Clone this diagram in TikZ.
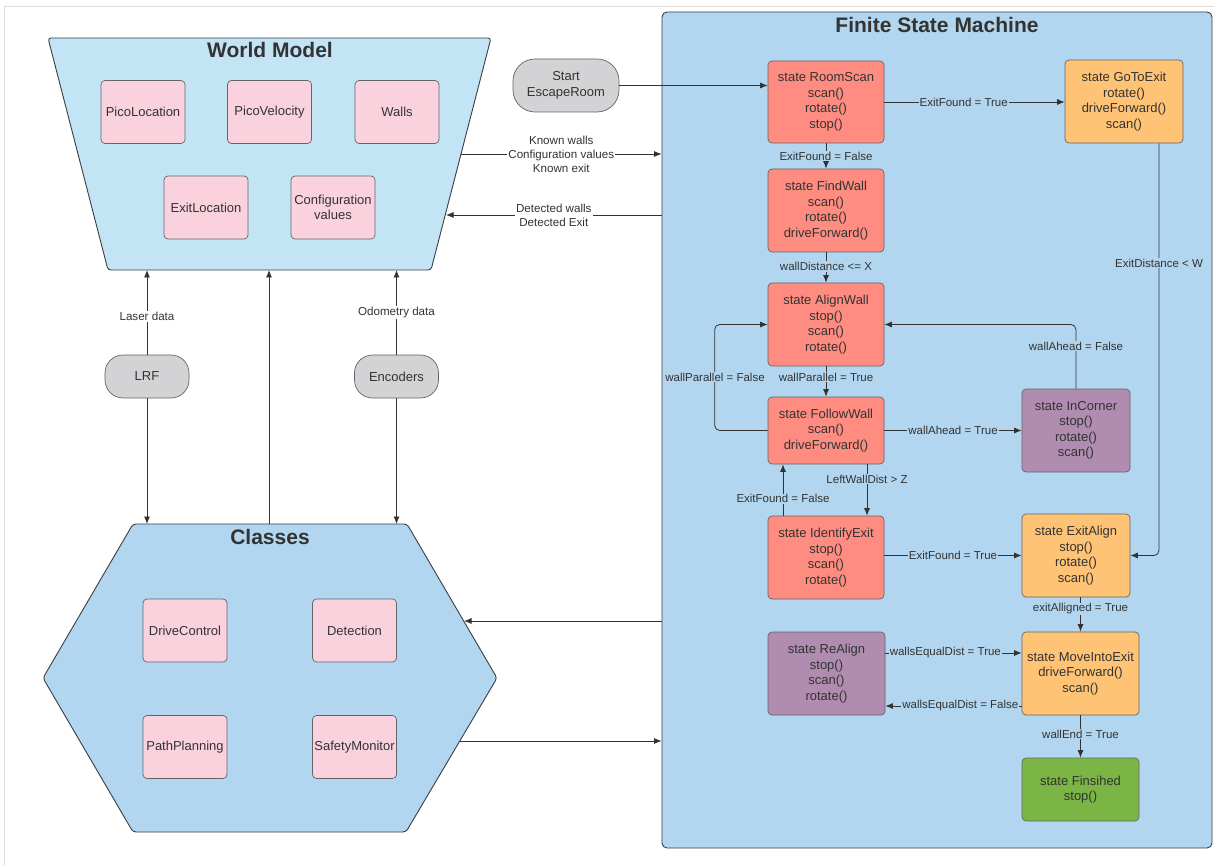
\documentclass[tikz,border=0pt]{standalone}
\usepackage{fontspec}
\setmainfont{Liberation Sans}
\usetikzlibrary{arrows.meta}
\definecolor{wmblue}{RGB}{194,228,245}
\definecolor{clsblue}{RGB}{178,214,239}
\definecolor{pinkbox}{RGB}{249,210,222}
\definecolor{redst}{RGB}{255,140,128}
\definecolor{orangest}{RGB}{255,195,117}
\definecolor{purplest}{RGB}{176,140,176}
\definecolor{greenst}{RGB}{122,181,70}
\definecolor{pillgrey}{RGB}{211,211,213}
\definecolor{bord}{RGB}{100,100,104}
\definecolor{outerb}{RGB}{58,62,68}
\definecolor{txt}{RGB}{51,51,51}
\definecolor{linec}{RGB}{51,51,51}
\definecolor{frame}{RGB}{222,222,222}
\begin{document}
\begin{tikzpicture}[x=1pt,y=-1pt,
  box/.style={draw=bord, line width=0.7pt, rounded corners=4pt, align=center, text=txt,
    font=\fontsize{13}{15.5}\selectfont, inner sep=0pt},
  pinkb/.style={box, fill=pinkbox, minimum width=84pt, minimum height=63pt},
  stred/.style={box, fill=redst},
  storange/.style={box, fill=orangest},
  stpurple/.style={box, fill=purplest},
  stgreen/.style={box, fill=greenst},
  pill/.style={box, fill=pillgrey},
  arr/.style={draw=linec, line width=0.8pt, -{Latex[length=7.5pt,width=6pt]}},
  lbl/.style={font=\fontsize{11.6}{14}\selectfont, text=txt, fill=white, inner sep=1pt, align=center},
  flbl/.style={font=\fontsize{11.5}{14}\selectfont, text=txt, fill=clsblue, inner sep=1pt, align=center},
  ttl/.style={font=\fontsize{21}{24}\selectfont\bfseries, text=txt}
]
\useasboundingbox (0,0) rectangle (1214,866);
\fill[white] (0,0) rectangle (1214,866);
\draw[frame, line width=0.8pt] (4,866) -- (4,6) -- (1214,6);

% ---------- World Model ----------
\draw[draw=outerb, line width=0.9pt, fill=wmblue, rounded corners=3pt]
  (48,38) -- (491,38) -- (431,270) -- (108,270) -- cycle;
\node[ttl] (wmtitle) at (270,50) {World Model};
\node[pinkb] (picoloc) at (143,112) {PicoLocation};
\node[pinkb] (picovel) at (269.5,112) {PicoVelocity};
\node[pinkb] (walls) at (397,112) {Walls};
\node[pinkb] (exitloc) at (206,207.5) {ExitLocation};
\node[pinkb] (config) at (333,207.5) {Configuration\\values};
\coordinate (wmR1) at (461,154);
\coordinate (wmR2) at (446,215);
\coordinate (wmB2) at (269,270);

% ---------- Classes ----------
\draw[draw=outerb, line width=0.9pt, fill=clsblue, rounded corners=3pt]
  (133,524) -- (407,524) -- (497,678) -- (406,832) -- (133,832) -- (43,678) -- cycle;
\node[ttl] (clstitle) at (270,537) {Classes};
\node[pinkb] (drive) at (185,630.5) {DriveControl};
\node[pinkb] (detect) at (354.5,630.5) {Detection};
\node[pinkb] (path) at (185,747) {PathPlanning};
\node[pinkb] (safety) at (354.5,747) {SafetyMonitor};
\coordinate (clsT2) at (269,524);
\coordinate (clsR1) at (464,621);
\coordinate (clsR2) at (460,741);

% ---------- sensors ----------
\node[pill, rounded corners=18pt, minimum width=84pt, minimum height=43pt] (lrf) at (147,376.5) {LRF};
\node[pill, rounded corners=18pt, minimum width=84pt, minimum height=43pt] (enc) at (396.5,376.5) {Encoders};

% ---------- FSM container ----------
\node[draw=outerb, line width=0.9pt, fill=clsblue, rounded corners=5pt,
  minimum width=550pt, minimum height=836pt, inner sep=0pt] (FSM) at (937,430) {};
\node[ttl] (fsmtitle) at (937,25) {Finite State Machine};

\node[pill, rounded corners=22pt, minimum width=106pt, minimum height=53pt] (start) at (566,85.5) {Start\\EscapeRoom};

\node[stred, minimum width=116pt, minimum height=82pt] (roomscan) at (826,102) {state RoomScan\\scan()\\rotate()\\stop()};
\node[stred, minimum width=116pt, minimum height=83pt] (findwall) at (826,210.5) {state FindWall\\scan()\\rotate()\\driveForward()};
\node[stred, minimum width=116pt, minimum height=83pt] (alignwall) at (826,324.5) {state AlignWall\\stop()\\scan()\\rotate()};
\node[stred, minimum width=116pt, minimum height=67pt] (followwall) at (826,430.5) {state FollowWall\\scan()\\driveForward()};
\node[stred, minimum width=116pt, minimum height=83pt] (identify) at (826,557.5) {state IdentifyExit\\stop()\\scan()\\rotate()};
\node[stpurple, minimum width=117pt, minimum height=83pt] (realign) at (826.5,673.5) {state ReAlign\\stop()\\scan()\\rotate()};
\node[storange, minimum width=118pt, minimum height=83pt] (gotoexit) at (1124,101.5) {state GoToExit\\rotate()\\driveForward()\\scan()};
\node[stpurple, minimum width=108pt, minimum height=83pt] (incorner) at (1076,430.5) {state InCorner\\stop()\\rotate()\\scan()};
\node[storange, minimum width=108pt, minimum height=83pt] (exitalign) at (1076,555.5) {state ExitAlign\\stop()\\rotate()\\scan()};
\node[storange, minimum width=117pt, minimum height=83pt] (moveinto) at (1080.5,673.5) {state MoveIntoExit\\driveForward()\\scan()};
\node[stgreen, minimum width=117pt, minimum height=63pt] (finished) at (1080.5,789.5) {state Finsihed\\stop()};

% ---------- left connectors ----------
\draw[arr] (wmR1) -- node[lbl] {Known walls\\Configuration values\\Known exit} (wmR1 -| FSM.west);
\draw[arr] (wmR2 -| FSM.west) -- node[lbl] {Detected walls\\Detected Exit} (wmR2);
\draw[arr] (clsR1 -| FSM.west) -- (clsR1);
\draw[arr] (clsR2) -- (clsR2 -| FSM.west);

\draw[arr] (lrf.north) -- node[lbl, pos=0.45] {Laser data} (lrf.north |- wmB2);
\draw[arr] (enc.north) -- node[lbl, pos=0.5] {Odometry data} (enc.north |- wmB2);
\draw[arr] (clsT2) -- (wmB2);
\draw[arr] (lrf.south) -- (lrf.south |- clsT2);
\draw[arr] (enc.south) -- (enc.south |- clsT2);

% ---------- FSM connectors ----------
\draw[arr] (start.east) -- (start.east -| roomscan.west);
\draw[arr] (roomscan.east) -- node[flbl, pos=0.44] {ExitFound = True} (gotoexit.west |- roomscan.east);
\draw[arr] (roomscan.south) -- node[flbl] {ExitFound = False} (findwall.north);
\draw[arr] (findwall.south) -- node[flbl, pos=0.47] {wallDistance <= X} (alignwall.north);
\draw[arr] (alignwall.south) -- node[flbl, pos=0.35] {wallParallel = True} (followwall.north);
\draw[arr, rounded corners=5pt] (followwall.west) -| ([xshift=-53pt]alignwall.west) -- (alignwall.west);
\node[flbl] (wpf) at (715,377) {wallParallel = False};
\draw[arr] (followwall.east) -- node[flbl] {wallAhead = True} (incorner.west);
\draw[arr, rounded corners=5pt] (incorner.north) |- (alignwall.east);
\node[flbl] (waf) at (1076,346) {wallAhead = False};
\draw[arr] ([xshift=41pt]followwall.south) -- node[flbl, pos=0.29] {LeftWallDist > Z} ([xshift=41pt]identify.north);
\draw[arr] ([xshift=-43pt]identify.north) -- node[flbl, pos=0.33] {ExitFound = False} ([xshift=-43pt]followwall.south);
\draw[arr] (identify.east |- exitalign.west) -- node[flbl] {ExitFound = True} (exitalign.west);
\draw[arr, rounded corners=5pt] ([xshift=35pt]gotoexit.south) |- (exitalign.east);
\node[flbl] (edw) at (1159,263) {ExitDistance < W};
\draw[arr] (exitalign.south -| moveinto.north) -- node[flbl, pos=0.34] {exitAlligned = True} (moveinto.north);
\draw[arr] ([yshift=20.5pt]realign.east) -- node[flbl, pos=0.44] {wallsEqualDist = True} ([yshift=20.5pt]realign.east -| moveinto.west);
\draw[arr] ([yshift=-32.5pt]moveinto.west) -- node[flbl, pos=0.45] {wallsEqualDist = False} ([yshift=-32.5pt]moveinto.west -| realign.east);
\draw[arr] (moveinto.south) -- node[flbl, pos=0.44] {wallEnd = True} (finished.north);
\end{tikzpicture}
\end{document}
